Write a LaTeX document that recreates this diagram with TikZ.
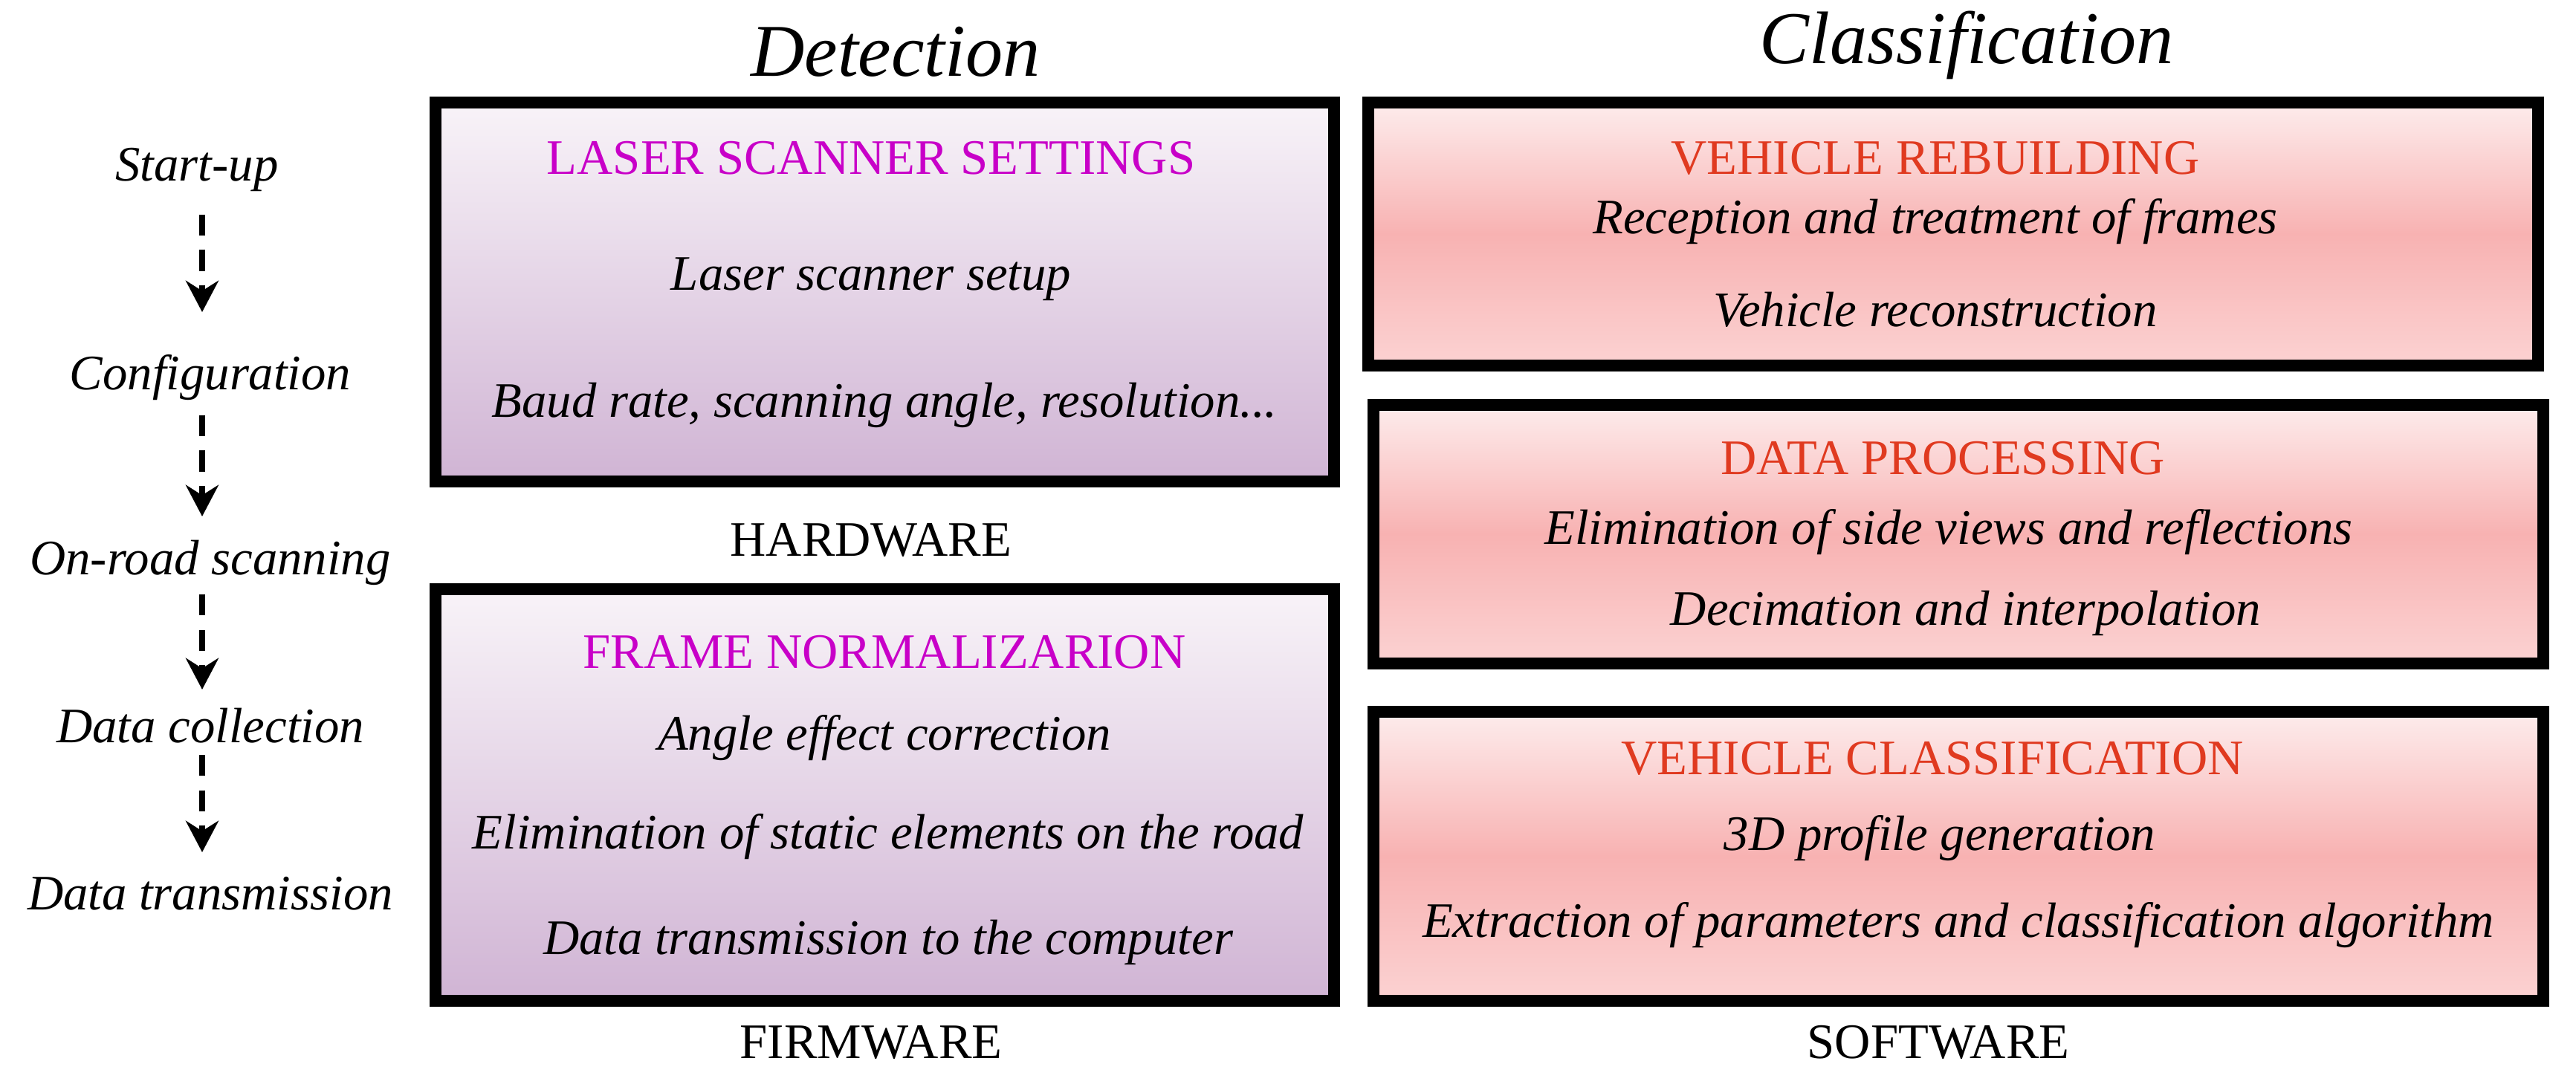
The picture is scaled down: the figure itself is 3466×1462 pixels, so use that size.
\documentclass[tikz,border=0pt]{standalone}
\usepackage{fontspec}
\setmainfont{Liberation Serif}
\usetikzlibrary{arrows.meta}
\definecolor{pTop}{HTML}{F8F3F8}
\definecolor{pBot}{HTML}{D0B4D4}
\definecolor{rTop}{HTML}{FDECEC}
\definecolor{rMid}{HTML}{F8B2B2}
\definecolor{rBot}{HTML}{FBD2D2}
\definecolor{mag}{HTML}{C800C8}
\definecolor{redt}{HTML}{E03A20}
\tikzset{
 pbox/.style={draw=black,line width=4.6pt,top color=pTop,bottom color=pBot},
 rbox/.style={draw=black,line width=4.6pt,top color=rTop,bottom color=rBot,middle color=rMid},
 it/.style={font=\itshape\fontsize{19}{22}\selectfont},
 head/.style={font=\itshape\fontsize{28.5}{32}\selectfont},
 ttl/.style={font=\fontsize{19}{22}\selectfont},
 lab/.style={font=\fontsize{19}{22}\selectfont},
 darr/.style={dash pattern=on 8pt off 5.5pt,line width=2pt,-{Stealth[length=12pt,width=12.5pt]}}
}
\begin{document}
\begin{tikzpicture}[x=0.01cm,y=-0.01cm]
\useasboundingbox (0,0) rectangle (3466,1462);
\node[head] (det) at (1205,70) {Detection};
\node[head] (cls) at (2646,61) {Classification};
% left flow
\node[it] (s1) at (265,228) {Start-up};
\node[it] (s2) at (283,508) {Configuration};
\node[it] (s3) at (283,757) {On-road scanning};
\node[it] (s4) at (283,977) {Data collection};
\node[it] (s5) at (283,1203) {Data transmission};
\coordinate (a1s) at (272,289); \coordinate (a1e) at (272,420);
\coordinate (a2s) at (272,559); \coordinate (a2e) at (272,695);
\coordinate (a3s) at (272,800); \coordinate (a3e) at (272,928);
\coordinate (a4s) at (272,1016); \coordinate (a4e) at (272,1147);
\draw[darr] (a1s) -- (a1e);
\draw[darr] (a2s) -- (a2e);
\draw[darr] (a3s) -- (a3e);
\draw[darr] (a4s) -- (a4e);
% detection boxes
\draw[pbox] (586,138) rectangle (1795,648);
\node[ttl,text=mag] (t1) at (1172,213) {LASER SCANNER SETTINGS};
\node[it] at (1172,376) {Laser scanner setup};
\node[it] at (1190,545) {Baud rate, scanning angle, resolution...};
\node[lab] (hw) at (1172,727) {HARDWARE};
\draw[pbox] (586,793) rectangle (1795,1347);
\node[ttl,text=mag] at (1190,878) {FRAME NORMALIZARION};
\node[it] at (1190,993) {Angle effect correction};
\node[it] at (1195,1126) {Elimination of static elements on the road};
\node[it] at (1195,1268) {Data transmission to the computer};
\node[lab] (fw) at (1172,1403) {FIRMWARE};
% classification boxes
\draw[rbox] (1841,138) rectangle (3415,492);
\node[ttl,text=redt] at (2604,213) {VEHICLE REBUILDING};
\node[it] at (2604,298) {Reception and treatment of frames};
\node[it] at (2604,417) {Vehicle reconstruction};
\draw[rbox] (1848,545) rectangle (3422,893);
\node[ttl,text=redt] at (2614,617) {DATA PROCESSING};
\node[it] at (2622,716) {Elimination of side views and reflections};
\node[it] at (2645,825) {Decimation and interpolation};
\draw[rbox] (1848,958) rectangle (3422,1347);
\node[ttl,text=redt] at (2600,1021) {VEHICLE CLASSIFICATION};
\node[it] at (2610,1128) {3D profile generation};
\node[it] at (2635,1245) {Extraction of parameters and classification algorithm};
\node[lab] (sw) at (2608,1403) {SOFTWARE};
\end{tikzpicture}
\end{document}
